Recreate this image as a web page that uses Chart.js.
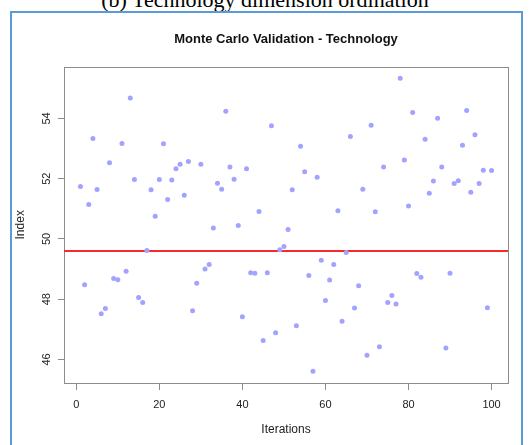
<!DOCTYPE html>
<html>
<head>
<meta charset="utf-8">
<script src="https://cdn.jsdelivr.net/npm/chart.js@4.4.0/dist/chart.umd.min.js"></script>
<style>
  body { margin: 0; background: #fff; width: 530px; height: 445px; overflow: hidden; position: relative; }
  #caption { position: absolute; left: 0; top: -11px; width: 530px; text-align: center;
    font: 22px/22px "Liberation Serif", "Times New Roman", serif; color: #000; white-space: nowrap; }
  #frame { position: absolute; left: 10px; top: 11px; width: 509px; height: 440px;
    border: 2px solid #5b9bd5; border-bottom: none; }
  #wrap { position: absolute; left: 0; top: 0; width: 530px; height: 445px; }
</style>
</head>
<body>
<div id="caption">(b) Technology dimension ordination</div>
<div id="frame"></div>
<div id="wrap"><canvas id="chart" width="530" height="445"></canvas></div>
<script>
// iteration index on x, one point per Monte Carlo run
const iterations = Array.from({ length: 100 }, (_, i) => i + 1)

const indexValues = [
  51.74, 48.48, 51.14, 53.33, 51.64, 47.52, 47.69, 52.53, 48.69, 48.65,
  53.17, 48.93, 54.68, 51.97, 48.06, 47.89, 49.62, 51.63, 50.75, 51.97,
  53.16, 51.31, 51.96, 52.33, 52.48, 51.45, 52.57, 47.62, 48.53, 52.48,
  49.00, 49.15, 50.36, 51.85, 51.65, 54.24, 52.39, 51.98, 50.45, 47.42,
  52.33, 48.88, 48.86, 50.91, 46.63, 48.88, 53.76, 46.89, 49.64, 49.75,
  50.31, 51.63, 47.12, 53.08, 52.23, 48.79, 45.61, 52.05, 49.29, 47.96,
  48.64, 49.15, 50.94, 47.27, 49.55, 53.40, 47.71, 48.45, 51.65, 46.14,
  53.77, 50.90, 46.42, 52.39, 47.89, 48.12, 47.84, 55.33, 52.62, 51.09,
  54.20, 48.85, 48.73, 53.31, 51.52, 51.92, 54.01, 52.39, 46.38, 48.86,
  51.84, 51.93, 53.11, 54.26, 51.55, 53.46, 51.84, 52.28, 47.72, 52.27,
]

const meanIndex = 49.6

const xTicks = [0, 20, 40, 60, 80, 100]
const yTicks = [46, 48, 50, 52, 54]

// R style ranges: data range padded by 4% each side
const xMin = -2.96
const xMax = 103.96
const yMin = 45.22
const yMax = 55.72

const points = iterations.map((it, i) => ({ x: it, y: indexValues[i] }))

const boxPlugin = {
  id: 'plotBox',
  beforeDatasetsDraw(chart) {
    const { ctx, chartArea } = chart
    ctx.save()
    ctx.strokeStyle = '#8c8c8c'
    ctx.lineWidth = 1
    ctx.strokeRect(
      Math.round(chartArea.left) + 0.5,
      Math.round(chartArea.top) + 0.5,
      Math.round(chartArea.right - chartArea.left),
      Math.round(chartArea.bottom - chartArea.top)
    )
    ctx.restore()
  },
}

const font = 'Liberation Sans'

new Chart(document.getElementById('chart').getContext('2d'), {
  type: 'scatter',
  data: {
    datasets: [
      {
        label: 'Index',
        data: points,
        backgroundColor: '#a3a3ff',
        borderWidth: 0,
        pointRadius: 2.5,
      },
      {
        type: 'line',
        label: 'Mean',
        data: [{ x: xMin, y: meanIndex }, { x: xMax, y: meanIndex }],
        borderColor: '#f52a2a',
        borderWidth: 2,
        pointRadius: 0,
      },
    ],
  },
  options: {
    responsive: false,
    animation: false,
    layout: { padding: { left: 0, right: 22, top: 0, bottom: 0 } },
    plugins: {
      legend: { display: false },
      tooltip: { enabled: false },
      title: {
        display: true,
        fullSize: false,
        text: 'Monte Carlo Validation - Technology',
        color: '#111',
        font: { family: font, size: 13, weight: 'bold' },
        padding: { top: 32, bottom: 19 },
      },
    },
    scales: {
      x: {
        type: 'linear',
        min: xMin,
        max: xMax,
        afterBuildTicks: (scale) => { scale.ticks = xTicks.map((v) => ({ value: v })) },
        afterFit: (scale) => { scale.height = 62 },
        border: { display: false },
        grid: { drawOnChartArea: false, drawTicks: true, tickLength: 7, color: '#8c8c8c' },
        ticks: { color: '#222', font: { family: font, size: 11 }, padding: 8, maxRotation: 0 },
        title: {
          display: true,
          text: 'Iterations',
          color: '#222',
          font: { family: font, size: 12 },
          padding: { top: 0, bottom: 8 },
        },
      },
      y: {
        type: 'linear',
        min: yMin,
        max: yMax,
        afterBuildTicks: (scale) => { scale.ticks = yTicks.map((v) => ({ value: v })) },
        afterFit: (scale) => { scale.width = 64 },
        border: { display: false },
        grid: { drawOnChartArea: false, drawTicks: true, tickLength: 6, color: '#8c8c8c' },
        ticks: {
          color: '#222',
          font: { family: font, size: 11 },
          minRotation: 90,
          maxRotation: 90,
          crossAlign: 'center',
          padding: 5,
        },
        title: {
          display: true,
          text: 'Index',
          color: '#222',
          font: { family: font, size: 12 },
          padding: { top: 13, bottom: 0 },
        },
      },
    },
  },
  plugins: [boxPlugin],
})
</script>
</body>
</html>
